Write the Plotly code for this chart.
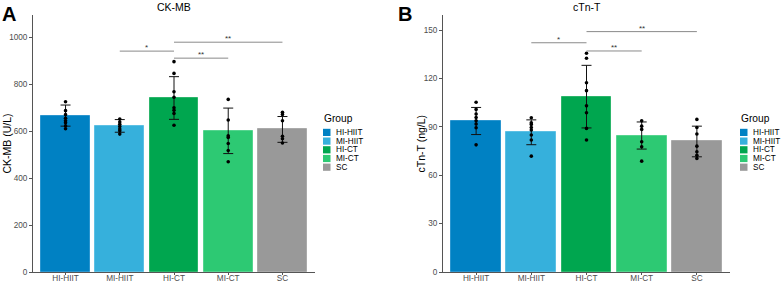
import plotly.graph_objects as go

W, H = 782, 282

categories = ["HI-HIIT", "MI-HIIT", "HI-CT", "MI-CT", "SC"]
colors = ["#0081C3", "#36B0DC", "#00A64F", "#2DC973", "#999999"]
outline = ["#2A95CF", "#5CC0E4", "#2BB56A", "#55D48E", "#AAAAAA"]

ckmb_mean = [667, 623, 742, 602, 608]
ckmb_sd = [45, 27, 91, 97, 55]
ckmb_points = [
    [726, 688, 671, 656, 645, 637, 623, 611],
    [652, 640, 630, 620, 610, 602, 588],
    [897, 847, 769, 745, 700, 690, 676, 626],
    [736, 648, 581, 574, 548, 518, 470],
    [681, 672, 645, 579, 568, 550],
]
ckmb_ticks = [0, 200, 400, 600, 800, 1000]
ckmb_comp = [(1, 2, 942, "*"), (2, 3, 912, "**"), (2, 4, 980, "**")]

ctnt_mean = [93.6, 86.6, 108.7, 84.6, 80.9]
ctnt_sd = [8.4, 7.7, 19.4, 8.4, 9.5]
ctnt_points = [
    [105.2, 100.8, 97.9, 95.8, 93.7, 91.7, 89.4, 78.8],
    [95.6, 92.5, 91.5, 89.6, 88.0, 84.9, 81.8, 71.8],
    [135.6, 132.5, 117.3, 112.4, 103.0, 98.7, 89.0, 81.8],
    [93.7, 90.4, 88.4, 80.7, 77.6, 68.7],
    [94.6, 89.6, 85.5, 78.0, 74.5, 72.4, 70.4],
]
ctnt_ticks = [0, 30, 60, 90, 120, 150]
ctnt_comp = [(1, 2, 142.1, "*"), (2, 3, 137.0, "**"), (2, 4, 149.0, "**")]

FONT = "Liberation Sans, Arial, sans-serif"


def px_x(p):
    return p / W


def px_y(p):
    return 1 - p / H


fig = go.Figure()
xpos = list(range(len(categories)))

panels = [
    dict(xa="x", ya="y", mean=ckmb_mean, sd=ckmb_sd, pts=ckmb_points, comp=ckmb_comp,
         ticks=ckmb_ticks, yr=[0, 1096], dom=[33, 315], title="CK-MB",
         ytitle="CK-MB (U/L)", letter="A", ytx=6, leg=323),
    dict(xa="x2", ya="y2", mean=ctnt_mean, sd=ctnt_sd, pts=ctnt_points, comp=ctnt_comp,
         ticks=ctnt_ticks, yr=[0, 159.3], dom=[443, 730], title="cTn-T",
         ytitle="cTn-T (ng/L)", letter="B", ytx=420, leg=740),
]

shapes = []
annotations = []
ydom = [px_y(272), px_y(15)]

for k, p in enumerate(panels):
    fig.add_trace(go.Bar(
        x=xpos, y=p["mean"], width=0.9,
        marker=dict(color=colors, line=dict(color=outline, width=1)),
        error_y=dict(type="data", array=p["sd"], visible=True, color="#111111",
                     thickness=1, width=5),
        xaxis=p["xa"], yaxis=p["ya"], showlegend=False, hoverinfo="skip",
    ))
    xs, ys = [], []
    for i, vals in enumerate(p["pts"]):
        xs += [i] * len(vals)
        ys += vals
    fig.add_trace(go.Scatter(
        x=xs, y=ys, mode="markers",
        marker=dict(color="black", size=3.6),
        xaxis=p["xa"], yaxis=p["ya"], showlegend=False, hoverinfo="skip",
    ))
    for (a, b, yv, lab) in p["comp"]:
        shapes.append(dict(type="line", xref=p["xa"], yref=p["ya"],
                           x0=a, x1=b, y0=yv, y1=yv,
                           line=dict(color="#8a8a8a", width=1)))
        annotations.append(dict(xref=p["xa"], yref=p["ya"], x=(a + b) / 2, y=yv,
                                text=lab, showarrow=False, yanchor="bottom",
                                yshift=-3, font=dict(family=FONT, size=8, color="#333")))
    # panel title
    annotations.append(dict(xref="paper", yref="paper",
                            x=px_x((p["dom"][0] + p["dom"][1]) / 2), y=px_y(7),
                            text=p["title"], showarrow=False, xanchor="center",
                            yanchor="middle", font=dict(family=FONT, size=10.5, color="black")))
    # letter
    annotations.append(dict(xref="paper", yref="paper",
                            x=px_x(0 if k == 0 else 396), y=px_y(1),
                            text="<b>%s</b>" % p["letter"], showarrow=False,
                            xanchor="left", yanchor="top",
                            font=dict(family=FONT, size=20, color="black")))
    # y-axis title
    annotations.append(dict(xref="paper", yref="paper",
                            x=px_x(p["ytx"]), y=px_y(143.5), text=p["ytitle"],
                            textangle=-90, showarrow=False, xanchor="center",
                            yanchor="middle", font=dict(family=FONT, size=10.5, color="black")))
    # legend
    lx = p["leg"]
    annotations.append(dict(xref="paper", yref="paper", x=px_x(lx - 1), y=px_y(118.5),
                            text="Group", showarrow=False, xanchor="left", yanchor="middle",
                            font=dict(family=FONT, size=10.2, color="black")))
    for i, c in enumerate(categories):
        cy = 132.4 + i * 8.7
        shapes.append(dict(type="rect", xref="paper", yref="paper",
                           x0=px_x(lx), x1=px_x(lx + 7.5), y0=px_y(cy + 3.6), y1=px_y(cy - 3.6),
                           fillcolor=colors[i], line=dict(width=0)))
        annotations.append(dict(xref="paper", yref="paper", x=px_x(lx + 11), y=px_y(cy),
                                text=c, showarrow=False, xanchor="left", yanchor="middle",
                                font=dict(family=FONT, size=8.2, color="black")))

axis_common = dict(showgrid=False, zeroline=False, showline=True, linecolor="#555555",
                   linewidth=1, ticks="outside", ticklen=3, tickcolor="#555555",
                   tickfont=dict(family=FONT, size=8.2, color="#4D4D4D"), automargin=False)

for k, p in enumerate(panels):
    sx = "" if k == 0 else "2"
    fig.layout["xaxis" + sx] = dict(
        axis_common, domain=[px_x(p["dom"][0]), px_x(p["dom"][1])], range=[-0.6, 4.6],
        tickvals=xpos, ticktext=categories, anchor="y" + sx, ticklen=2,
        ticklabelstandoff=-4)
    fig.layout["yaxis" + sx] = dict(
        axis_common, domain=ydom, range=p["yr"], tickvals=p["ticks"],
        anchor="x" + sx)

fig.update_layout(
    width=W, height=H, margin=dict(l=0, r=0, t=0, b=0),
    paper_bgcolor="white", plot_bgcolor="white",
    shapes=shapes, annotations=annotations, showlegend=False,
    font=dict(family=FONT), bargap=0,
)

fig.write_html("out.html", config={"displayModeBar": False},
               post_script="document.body.style.margin='0';document.body.style.padding='0';")
